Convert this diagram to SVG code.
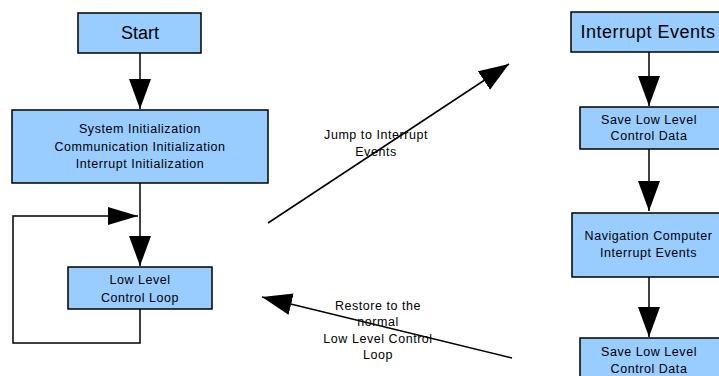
<svg xmlns="http://www.w3.org/2000/svg" width="719" height="376" viewBox="0 0 719 376">
<style>
.box{fill:#99CCFF;stroke:#000;stroke-width:1.5}
.big{font-family:"Liberation Sans",Arial,sans-serif;font-size:18px;fill:#000;text-anchor:middle}
.sm{font-family:"Liberation Sans",Arial,sans-serif;font-size:12.5px;letter-spacing:0.55px;fill:#000;text-anchor:middle}
.ln{fill:none;stroke:#000;stroke-width:1.5}
</style>
<defs>
<marker id="ah" markerUnits="userSpaceOnUse" markerWidth="32" markerHeight="24" refX="30" refY="11" orient="auto">
<path d="M0,0 L30,11 L0,22 z" fill="#000"/>
</marker>
<marker id="ah2" markerUnits="userSpaceOnUse" markerWidth="32" markerHeight="20" refX="30" refY="9" orient="auto">
<path d="M0,0 L30,9 L0,18 z" fill="#000"/>
</marker>
</defs>
<g id="connectors">
<line class="ln" x1="140" y1="53" x2="140" y2="109" marker-end="url(#ah)"/>
<line class="ln" x1="140" y1="183" x2="140" y2="266" marker-end="url(#ah)"/>
<path class="ln" d="M140,309 V343 H13 V216 H138" marker-end="url(#ah2)"/>
<line class="ln" x1="268" y1="223" x2="509" y2="64" marker-end="url(#ah)"/>
<line class="ln" x1="512" y1="358" x2="262" y2="297" marker-end="url(#ah)"/>
<line class="ln" x1="649" y1="52" x2="649" y2="106" marker-end="url(#ah)"/>
<line class="ln" x1="649" y1="149" x2="649" y2="211" marker-end="url(#ah)"/>
<line class="ln" x1="649" y1="277" x2="649" y2="337" marker-end="url(#ah)"/>
<text class="sm" x="376" y="139">Jump to Interrupt</text>
<text class="sm" x="376" y="156">Events</text>
<text class="sm" x="378" y="310">Restore to the</text>
<text class="sm" x="378" y="326">normal</text>
<text class="sm" x="378" y="343">Low Level Control</text>
<text class="sm" x="378" y="359">Loop</text>
</g>
<g id="start">
<rect class="box" x="78" y="13" width="123" height="40"/>
<text class="big" x="140" y="39">Start</text>
</g>
<g id="init">
<rect class="box" x="12" y="110" width="256" height="73"/>
<text class="sm" x="140" y="133">System Initialization</text>
<text class="sm" x="140" y="150.5">Communication Initialization</text>
<text class="sm" x="140" y="168">Interrupt Initialization</text>
</g>
<g id="loop">
<rect class="box" x="68" y="267" width="144" height="42"/>
<text class="sm" x="140" y="284">Low Level</text>
<text class="sm" x="140" y="301.5">Control Loop</text>
</g>
<g id="interrupt">
<rect class="box" x="571" y="12" width="156" height="40"/>
<text class="big" x="648" y="37.5" style="letter-spacing:0.5px">Interrupt Events</text>
</g>
<g id="save1">
<rect class="box" x="580" y="107" width="145" height="42"/>
<text class="sm" x="649" y="123.5">Save Low Level</text>
<text class="sm" x="649" y="140">Control Data</text>
</g>
<g id="nav">
<rect class="box" x="572" y="213" width="155" height="64"/>
<text class="sm" x="648.5" y="240">Navigation Computer</text>
<text class="sm" x="648.5" y="256.5">Interrupt Events</text>
</g>
<g id="save2">
<rect class="box" x="580" y="338" width="145" height="45"/>
<text class="sm" x="649" y="356">Save Low Level</text>
<text class="sm" x="649" y="372.5">Control Data</text>
</g>
</svg>
